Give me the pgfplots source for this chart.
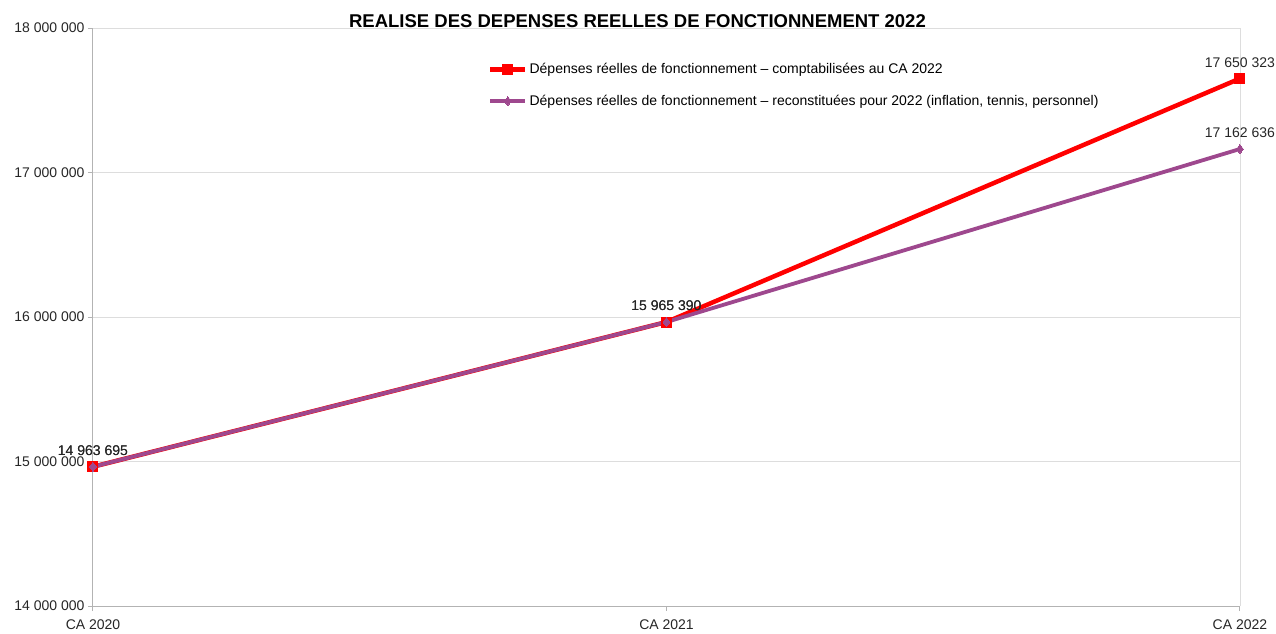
\documentclass[border=0pt]{standalone}
\usepackage{pgfplots}
\pgfplotsset{compat=1.18}
\usepackage{fontspec}
\setmainfont{Liberation Sans}
\definecolor{rouge}{RGB}{255,0,0}
\definecolor{violet}{RGB}{158,72,142}
\definecolor{gridc}{RGB}{221,221,221}
\definecolor{axc}{RGB}{179,179,179}
\begin{document}
\begin{tikzpicture}[x=1pt,y=1pt]
\useasboundingbox (-93,-27) rectangle (1183,606);
\begin{axis}[
  at={(0,0)}, anchor=south west,
  scale only axis, width=1147pt, height=578pt,
  xmin=0, xmax=2, ymin=14000000, ymax=18000000,
  xtick={0,1,2}, xticklabels={CA 2020,CA 2021,CA 2022},
  ytick={14000000,15000000,16000000,17000000,18000000},
  scaled y ticks=false,
  /pgf/number format/.cd, fixed, precision=0, 1000 sep={\ }, assume math mode=true,
  /pgfplots/.cd,
  axis x line*=bottom, axis y line*=left,
  axis line style={draw=axc, line width=1pt, -},
  tick align=outside, major tick length=5pt,
  tick style={draw=axc, line width=1pt},
  ymajorgrids, major grid style={draw=gridc, line width=0.8pt},
  extra x ticks={2}, extra x tick labels={},
  extra x tick style={xmajorgrids, major grid style={draw=gridc, line width=0.8pt}, major tick length=0pt},
  ticklabel style={font=\fontsize{14}{16}\selectfont, text=black!85},
  xticklabel style={yshift=-5pt},
  legend style={draw=none, fill=none, inner sep=0pt, at={(rel axis cs:0.3443,0.939)}, anchor=north west,
    font=\fontsize{14}{16}\selectfont, row sep=20pt, cells={anchor=west},
    nodes={inner xsep=2pt, inner ysep=0pt}},
  legend image code/.code={\draw[mark repeat=2, mark phase=2] plot coordinates {(0pt,0pt) (17.5pt,0pt) (35pt,0pt)};},
  legend cell align=left,
  clip=false,
  nodes near coords,
  every node near coord/.style={font=\fontsize{14}{16}\selectfont, text=black!85, anchor=south, yshift=8pt},
]
\addplot[rouge, line width=4.5pt, mark=square*, mark size=5pt, mark options={solid, fill=rouge, line width=0pt}]
  coordinates {(0,14963695) (1,15965390) (2,17650323)};
\addlegendentry{Dépenses réelles de fonctionnement – comptabilisées au CA 2022}
\addplot[violet, line width=3.8pt, mark=diamond*, mark size=4.5pt, mark options={solid, fill=violet, line width=0pt}]
  coordinates {(0,14963695) (1,15965390) (2,17162636)};
\addlegendentry{Dépenses réelles de fonctionnement – reconstituées pour 2022 (inflation, tennis, personnel)}
\node[font=\bfseries\fontsize{18.5}{20}\selectfont, anchor=center] at (rel axis cs:0.4747,1) [yshift=7pt] {REALISE DES DEPENSES REELLES DE FONCTIONNEMENT 2022};
\end{axis}
\end{tikzpicture}
\end{document}
